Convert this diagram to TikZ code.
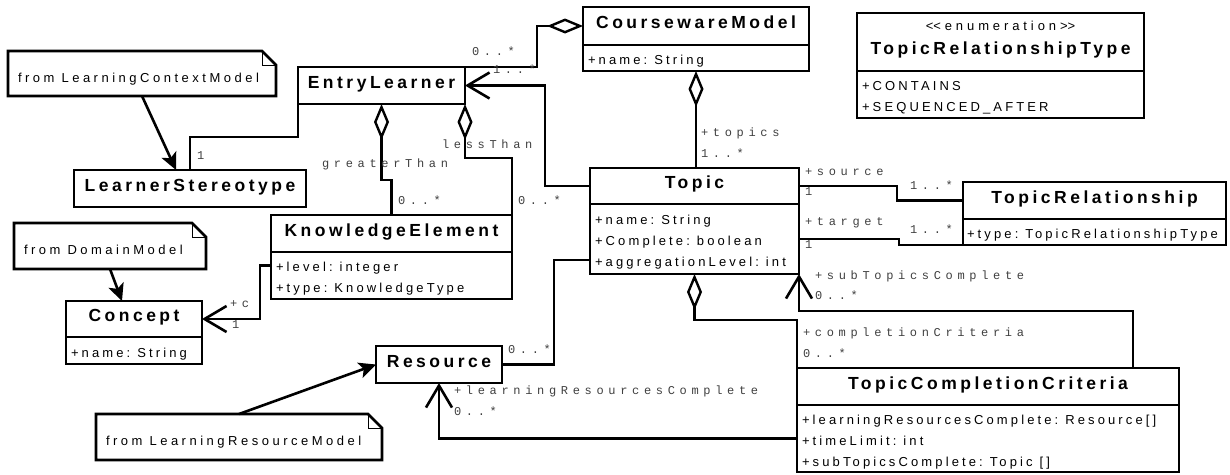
\documentclass[tikz,border=0pt]{standalone}
\usepackage{fontspec}
\setmainfont{Liberation Sans}
\newfontfamily\clsfont[LetterSpace=20]{Liberation Sans}
\newfontfamily\attrfont[LetterSpace=24]{Liberation Sans}
\newfontfamily\notefont[LetterSpace=27]{Liberation Sans}
\newfontfamily\stfont[LetterSpace=30]{Liberation Sans}
\newfontfamily\lblfont[LetterSpace=39]{Liberation Mono}
\usetikzlibrary{arrows.meta,calc}
% one attribute line, never broken
\newcommand\aline[1]{\mbox{#1}}
% word gap in tracked text
\newcommand\ws{\hspace{7pt}}
% dog-eared frame round a note node
\newcommand\noteframe[1]{%
  \draw (#1.north west) -- ([xshift=-14pt]#1.north east) -- ([yshift=-14pt]#1.north east)
        -- (#1.south east) -- (#1.south west) -- cycle;
  \draw[line width=0.8pt] ([xshift=-14pt]#1.north east) |- ([yshift=-14pt]#1.north east);}
\begin{document}
\begin{tikzpicture}[x=1pt,y=-1pt,
  line width=2.6pt,
  every node/.style={inner sep=0pt, outer sep=0pt},
  clsfnt/.style={font=\clsfont\bfseries\fontsize{17.5}{20}\selectfont, text height=12.5pt, text depth=7pt},
  namebox/.style={draw, anchor=north west, clsfnt},
  attrbox/.style={draw, anchor=north west, align=left, inner xsep=5pt,
    font=\attrfont\fontsize{13}{21}\selectfont, text height=16pt},
  notebox/.style={anchor=north west, align=left, inner xsep=10pt,
    font=\notefont\fontsize{13}{15}\selectfont, text height=17pt, text depth=0pt},
  lbl/.style={anchor=base west, text=black!75, font=\lblfont\fontsize{12}{14}\selectfont},
  aggr/.style={{Diamond[open,length=36pt,width=15pt,line width=2.4pt]}-},
  nav/.style={-{Straight Barb[length=22pt,width=26pt,line width=2.6pt]}},
  dep/.style={-{Stealth[length=17pt,width=16pt,inset=4pt]}},
]
\fill[white] (0,0) rectangle (1230,474);
\useasboundingbox (0,0) rectangle (1230,474);

% ---- classes ----
\node[namebox, minimum width=226pt, minimum height=38pt] (cm) at (583,7) {CoursewareModel};
\node[attrbox, text width=216pt, minimum height=26pt] (cmA) at (cm.south west) {\aline{+name:\ws String}};

\node[namebox, minimum width=167pt, minimum height=37pt] (el) at (298,67) {EntryLearner};
\node[namebox, minimum width=232pt, minimum height=37pt] (ls) at (74,170) {LearnerStereotype};

\node[namebox, minimum width=241pt, minimum height=37pt] (ke) at (271,215) {KnowledgeElement};
\node[attrbox, text width=231pt, minimum height=47pt] (keA) at (ke.south west)
  {\aline{+level:\ws integer}\\\aline{+type:\ws KnowledgeType}};

\node[namebox, minimum width=136pt, minimum height=36pt] (co) at (66,301) {Concept};
\node[attrbox, text width=126pt, minimum height=27pt] (coA) at (co.south west) {\aline{+name:\ws String}};

\node[namebox, minimum width=209pt, minimum height=36pt] (tp) at (590,168) {Topic};
\node[attrbox, text width=199pt, minimum height=70pt] (tpA) at (tp.south west)
  {\aline{+name:\ws String}\\\aline{+Complete:\ws boolean}\\\aline{+aggregationLevel:\ws int}};

\node[namebox, minimum width=263pt, minimum height=37pt] (tr) at (963,182) {TopicRelationship};
\node[attrbox, text width=255pt, minimum height=26pt, inner xsep=4pt] (trA) at (tr.south west)
  {\aline{+type:\ws TopicRelationshipType}};

\node[namebox, minimum width=382pt, minimum height=37pt] (tcc) at (797,368) {TopicCompletionCriteria};
\node[attrbox, text width=372pt, minimum height=67pt] (tccA) at (tcc.south west)
  {\aline{+learningResourcesComplete:\ws Resource[]}\\\aline{+timeLimit:\ws int}\\\aline{+subTopicsComplete:\ws Topic\ws []}};

\node[draw, anchor=north west, minimum width=287pt, minimum height=58pt] (trt) at (857,13) {};
\node[anchor=base, font=\stfont\fontsize{13}{15}\selectfont] (trtS) at (1000.5,30.5)
  {<\kern0pt<enumeration>\kern0pt>};
\node[clsfnt, anchor=base] (trtN) at (1000.5,54.3) {TopicRelationshipType};
\node[attrbox, text width=277pt, minimum height=47pt] (trtA) at (trt.south west)
  {\aline{+CONTAINS}\\\aline{+SEQUENCED\_AFTER}};

\node[namebox, minimum width=126pt, minimum height=37pt] (rs) at (376,346) {Resource};

% ---- notes ----
\node[notebox, text width=248pt, minimum height=45pt] (n1) at (8,51) {\mbox{from\ws LearningContextModel}};
\noteframe{n1}
\node[notebox, text width=172pt, minimum height=46pt] (n2) at (14,223) {\mbox{from\ws DomainModel}};
\noteframe{n2}
\node[notebox, text width=266pt, minimum height=46pt] (n3) at (96,414) {\mbox{from\ws LearningResourceModel}};
\noteframe{n3}

% ---- connectors ----
\draw[dep] (n1.south) -- ([xshift=-14pt]ls.north);
\draw[dep] (n2.south) -- ([xshift=-12pt]co.north);
\draw[dep] (n3.north) -- (rs.west);

\draw (el.south west) -- ++(0,33) -| (ls.north);
\draw[aggr] (el.south) -- ++(0,76) -| (ke.north);
\draw[aggr] (el.south east) -- ++(0,54) -| (ke.north east);
\draw[nav] (tp.west) -- ++(-45,0) |- (el.east);
\draw[aggr] (cm.west) -- ++(-46,0) |- (el.north east);
\draw[aggr] (cmA.south) -- (cmA.south |- tp.north);
\draw (tp.east) -- ++(98,0) |- (tr.west);
\draw (tpA.east) -- ++(100,0) |- (trA.south west);
\draw[nav] ([xshift=-46pt]tcc.north east) -- ++(0,-57) -| (tpA.south east);
\draw[aggr] (tpA.south) -- ++(0,46) -| (tcc.north west);
\draw ([yshift=-21pt]tpA.west) -- ++(-36,0) |- (rs.east);
\draw[nav] (tccA.west) -| (rs.south);
\draw[nav] ([yshift=10pt]keA.west) -- ++(-11,0) |- (co.east);

% ---- role names and multiplicities ----
\node[lbl] (m1) at (197,159) {1};
\node[lbl] (m2) at (322,167) {greaterThan};
\node[lbl] (m3) at (398,204) {0..*};
\node[lbl] (m4) at (442,148) {lessThan};
\node[lbl] (m5) at (518,204) {0..*};
\node[lbl] (m6) at (472,55) {0..*};
\node[lbl] (m7) at (493,73) {1..*};
\node[lbl] (m8) at (701,136) {+topics};
\node[lbl] (m9) at (701,157) {1..*};
\node[lbl] (m10) at (805,175) {+source};
\node[lbl] (m11) at (805,195) {1};
\node[lbl] (m12) at (910,189) {1..*};
\node[lbl] (m13) at (805,225) {+target};
\node[lbl] (m14) at (805,248) {1};
\node[lbl] (m15) at (910,233) {1..*};
\node[lbl] (m16) at (815,279) {+subTopicsComplete};
\node[lbl] (m17) at (815,299) {0..*};
\node[lbl] (m18) at (803,336) {+completionCriteria};
\node[lbl] (m19) at (803,357) {0..*};
\node[lbl] (m20) at (508,353) {0..*};
\node[lbl] (m21) at (454,394) {+learningResourcesComplete};
\node[lbl] (m22) at (454,415) {0..*};
\node[lbl] (m23) at (230,307) {+c};
\node[lbl] (m24) at (232,328) {1};
\end{tikzpicture}
\end{document}
